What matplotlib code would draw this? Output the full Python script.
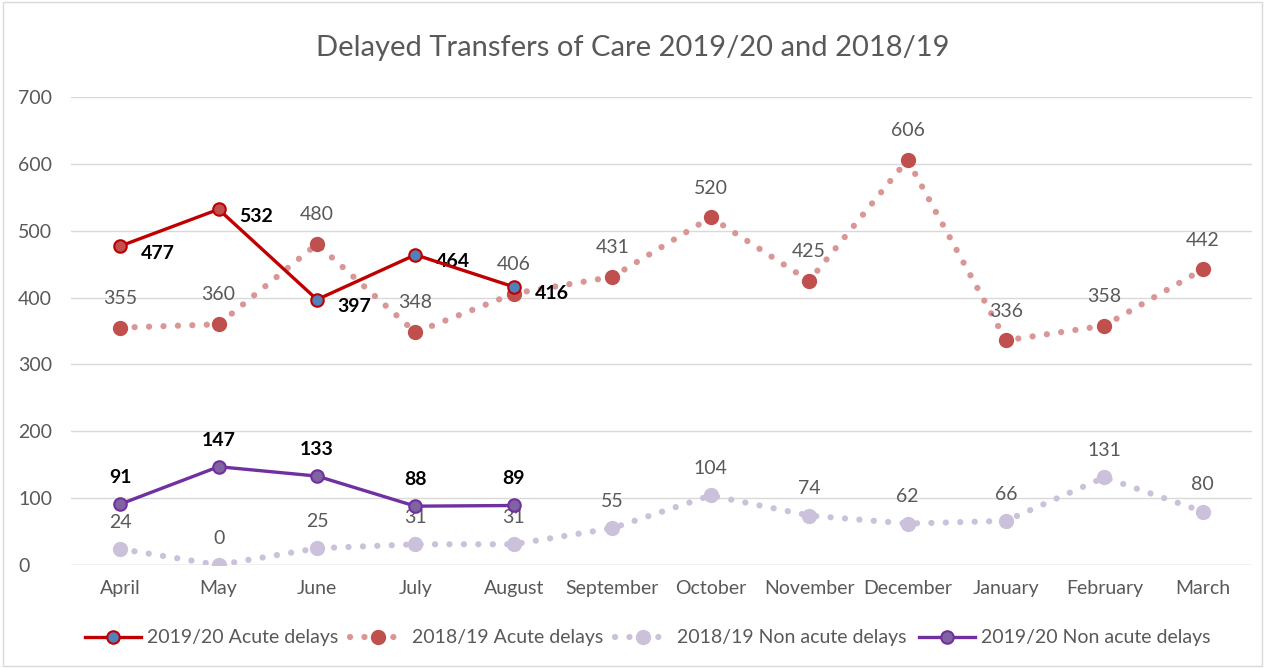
import numpy as np
import matplotlib.pyplot as plt
from matplotlib.lines import Line2D
from matplotlib.patches import Rectangle

plt.rcParams['font.family'] = ['Lato', 'DejaVu Sans']

# data
months = ['April', 'May', 'June', 'July', 'August', 'September', 'October',
          'November', 'December', 'January', 'February', 'March']
acute_1920 = [477, 532, 397, 464, 416]
acute_1819 = [355, 360, 480, 348, 406, 431, 520, 425, 606, 336, 358, 442]
nonacute_1819 = [24, 0, 25, 31, 31, 55, 104, 74, 62, 66, 131, 80]
nonacute_1920 = [91, 147, 133, 88, 89]

grey = '#595959'
dots = (0, (0.01, 2.3))
x = np.arange(len(months))
x5 = np.arange(len(acute_1920))

fig = plt.figure(figsize=(12.65, 6.68), dpi=100)
ax = fig.add_axes([0.0561, 0.1542, 0.9336, 0.7006])

# 2018/19 non acute (dotted, light lilac)
ax.plot(x, nonacute_1819, color='#ccc1da', lw=4.5, ls=dots,
        dash_capstyle='round', zorder=2)
ax.plot(x, nonacute_1819, ls='none', marker='o', ms=10, color='#ccc1da', zorder=3)

# 2018/19 acute (dotted, pink/red)
ax.plot(x, acute_1819, color='#d99694', lw=4.5, ls=dots,
        dash_capstyle='round', zorder=2)
ax.plot(x, acute_1819, ls='none', marker='o', ms=10, color='#c0504d', zorder=3)

# 2019/20 acute
ax.plot(x5, acute_1920, color='#c00000', lw=2.4, zorder=4)
faces = ['#c0504d', '#c0504d', '#4f81bd', '#4f81bd', '#4f81bd']
for xi, yi, fc in zip(x5, acute_1920, faces):
    ax.plot(xi, yi, marker='o', ms=9, mfc=fc, mec='#c00000', mew=1.5, zorder=5)

# 2019/20 non acute
ax.plot(x5, nonacute_1920, color='#7030a0', lw=2.4, marker='o', ms=9,
        mfc='#8064a2', mec='#7030a0', mew=1.5, zorder=4)

# labels
for xi, v in zip(x, acute_1819):
    ax.annotate(str(v), (xi, v), xytext=(0, 15), textcoords='offset points',
                ha='center', va='bottom', fontsize=14, color=grey)
for xi, v in zip(x, nonacute_1819):
    ax.annotate(str(v), (xi, v), xytext=(0, 13), textcoords='offset points',
                ha='center', va='bottom', fontsize=14, color=grey)
for xi, v in zip(x5, acute_1920):
    ax.annotate(str(v), (xi, v), xytext=(15, -5), textcoords='offset points',
                ha='left', va='center', fontsize=14, color='black', fontweight='bold')
for xi, v in zip(x5, nonacute_1920):
    ax.annotate(str(v), (xi, v), xytext=(0, 13), textcoords='offset points',
                ha='center', va='bottom', fontsize=14, color='black', fontweight='bold')

ax.set_xlim(-0.5, len(months) - 0.5)
ax.set_ylim(0, 700)
ax.set_yticks(range(0, 701, 100))
ax.set_xticks(x)
ax.set_xticklabels(months)
ax.tick_params(axis='both', length=0, labelsize=14, labelcolor=grey)
ax.tick_params(axis='x', pad=11)
ax.tick_params(axis='y', pad=38)
for lbl in ax.get_yticklabels():
    lbl.set_horizontalalignment('left')
ax.grid(axis='y', color='#d9d9d9', lw=1)
ax.set_axisbelow(True)
for s in ax.spines.values():
    s.set_visible(False)
ax.axhline(0, color='#d9d9d9', lw=1, zorder=1)

fig.text(0.5, 0.928, 'Delayed Transfers of Care 2019/20 and 2018/19',
         ha='center', va='center', fontsize=21, color=grey)

handles = [
    Line2D([], [], color='#c00000', lw=2.4, marker='o', ms=9, mfc='#4f81bd',
           mec='#c00000', mew=1.5),
    Line2D([], [], color='#d99694', lw=4.5, ls=dots, dash_capstyle='round',
           marker='o', ms=10, mfc='#c0504d', mec='#c0504d'),
    Line2D([], [], color='#ccc1da', lw=4.5, ls=dots, dash_capstyle='round',
           marker='o', ms=10, mfc='#ccc1da', mec='#ccc1da'),
    Line2D([], [], color='#7030a0', lw=2.4, marker='o', ms=9, mfc='#8064a2',
           mec='#7030a0', mew=1.5),
]
labels = ['2019/20 Acute delays', '2018/19 Acute delays',
          '2018/19 Non acute delays', '2019/20 Non acute delays']
fig.legend(handles, labels, loc='center', bbox_to_anchor=(0.512, 0.045), ncol=4,
           frameon=False, fontsize=14, labelcolor=grey, handlelength=2.9,
           columnspacing=0.6, handletextpad=0.3)

fig.patches.append(Rectangle((0.002, 0.003), 0.996, 0.994, transform=fig.transFigure,
                             fill=False, edgecolor='#d9d9d9', lw=1))

fig.savefig('out.png', dpi=100)
